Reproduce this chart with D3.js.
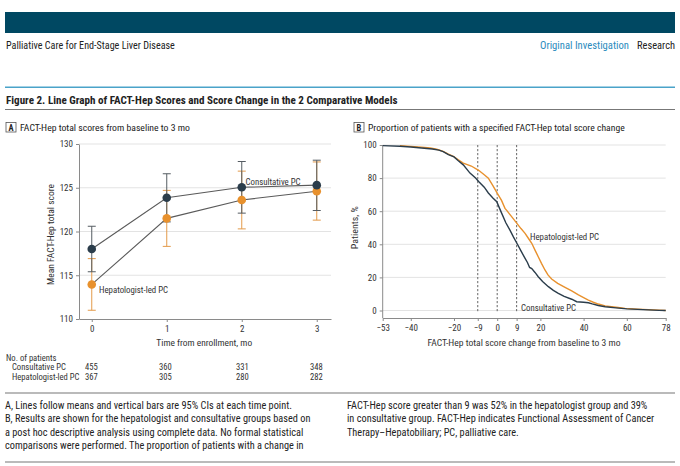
<!DOCTYPE html>
<html>
<head>
<meta charset="utf-8">
<script src="https://cdn.jsdelivr.net/npm/d3@7"></script>
<style>
  html, body { margin: 0; padding: 0; background: #fff; }
  svg { display: block; font-family: "Roboto Condensed", "Lato", sans-serif; }
</style>
</head>
<body>
<svg id="chart" width="680" height="466"></svg>
<script>
// ---------- Data ----------
const months = [0, 1, 2, 3];
const consultMean = [118.0, 123.85, 125.05, 125.3];
const consultLow  = [115.4, 121.1, 122.1, 122.4];
const consultHigh = [120.6, 126.6, 128.0, 128.15];
const hepMean = [113.95, 121.5, 123.6, 124.6];
const hepLow  = [111.0, 118.3, 120.3, 121.3];
const hepHigh = [116.9, 124.7, 126.9, 127.95];
const yTicksA = [110, 115, 120, 125, 130];

const patientRows = ["Consultative PC", "Hepatologist-led PC"];
const consultN = [455, 360, 331, 348];
const hepN = [367, 305, 280, 282];

const changeConsultX = [-53, -45, -40, -35, -30, -27, -25, -22.6, -20, -18, -15.7, -12.6, -10, -8.6, -6, -4.1, -2, -0.2, 1, 2.1, 4, 5.9, 7.5, 9.3, 11, 12.9, 14, 15, 16, 17.5, 19, 21, 23.7, 26, 28.3, 31, 34.5, 36.8, 40, 42.2, 44, 46.8, 50, 55, 60, 65, 70, 75, 78];
const changeConsultY = [99.6, 99.2, 98.8, 98.2, 97.6, 96.9, 96.0, 94.2, 92.8, 90.5, 88, 83, 80, 78, 74.5, 71, 68, 65.7, 62, 58.7, 53, 48.6, 44.5, 40.2, 36, 31.5, 29, 26, 25.3, 23, 20.4, 17.5, 14.4, 12.2, 10.4, 8.5, 6.8, 5.3, 5.0, 4.7, 4.0, 3.0, 2.3, 1.6, 1.0, 0.7, 0.4, 0.1, 0];
const changeHepX = [-45, -40, -35, -31, -28, -25, -22.6, -20.3, -18, -15.7, -12, -8.6, -6, -4.1, -2, 0.4, 2, 3.6, 4.4, 6.5, 9.3, 11, 12.9, 14.5, 16, 17.5, 19, 20.5, 22.1, 23.5, 25.2, 28, 31.4, 34.5, 37.6, 40, 42.2, 44.5, 46.8, 50, 53, 56, 59.2, 65, 70, 75, 78];
const changeHepY = [99.6, 99.2, 98.7, 98.2, 97.4, 96.2, 94.5, 93.2, 91, 89.1, 87.3, 84.7, 82, 80, 75.5, 70, 66.5, 61.7, 60.5, 57, 52.3, 49.5, 46.6, 43.5, 40.6, 36.5, 32.5, 28.5, 24.5, 21.5, 19, 16.4, 14, 11.8, 9.4, 7.8, 6.3, 5.0, 3.9, 2.8, 2.3, 1.8, 1.3, 0.8, 0.5, 0.2, 0];
const xTicksB = [-53, -40, -20, -9, 0, 9, 20, 40, 60, 78];
const yTicksB = [0, 20, 40, 60, 80, 100];
const refLinesB = [-9, 0, 9];

// ---------- Styles ----------
const NAVY = "#2b3d4b";
const ORANGE = "#e8912d";
const LINEGRAY = "#5a5a5a";
const GRID = "#e3e3e3";
const AXIS = "#8a8a8a";
const TXT = "#333";

const svg = d3.select("#chart");

// scale a text's font size so that it spans the given width
function fit(sel, w) {
  const fs = +sel.attr("font-size");
  const cur = sel.node().getComputedTextLength();
  if (cur > 0) sel.attr("font-size", (fs * w / cur).toFixed(2));
  return sel;
}

// ---------- Header ----------
svg.append("rect").attr("x", 5).attr("y", 12).attr("width", 670).attr("height", 21).attr("fill", "#004862");
fit(svg.append("text").attr("x", 6).attr("y", 48.5).attr("font-size", 10).attr("fill", "#222")
  .text("Palliative Care for End-Stage Liver Disease"), 169);
fit(svg.append("text").attr("x", 629).attr("y", 48.5).attr("font-size", 10.5).attr("fill", "#2a8bbd")
  .attr("text-anchor", "end").text("Original Investigation"), 89);
fit(svg.append("text").attr("x", 675).attr("y", 48.5).attr("font-size", 10.5).attr("fill", "#222")
  .attr("text-anchor", "end").text("Research"), 38);
svg.append("rect").attr("x", 5).attr("y", 86.5).attr("width", 670).attr("height", 1.5).attr("fill", "#4aa3c9");
fit(svg.append("text").attr("x", 6).attr("y", 103.5).attr("font-size", 11.2).attr("font-weight", "bold").attr("fill", "#222")
  .text("Figure 2. Line Graph of FACT-Hep Scores and Score Change in the 2 Comparative Models"), 391);
svg.append("rect").attr("x", 5).attr("y", 109).attr("width", 670).attr("height", 1).attr("fill", "#777");

function panelLabel(x, letter, text, w) {
  svg.append("rect").attr("x", x).attr("y", 122.5).attr("width", 10).attr("height", 9.5)
    .attr("fill", "#fff").attr("stroke", "#555").attr("stroke-width", 0.8);
  svg.append("text").attr("x", x + 5).attr("y", 130.5).attr("text-anchor", "middle")
    .attr("font-size", 8.5).attr("font-weight", "bold").attr("fill", "#222").text(letter);
  fit(svg.append("text").attr("x", x + 14).attr("y", 130.8).attr("font-size", 10).attr("fill", "#222").text(text), w);
}
panelLabel(6, "A", "FACT-Hep total scores from baseline to 3 mo", 170);
panelLabel(354, "B", "Proportion of patients with a specified FACT-Hep total score change", 257);

// ---------- Panel A ----------
const xA = d3.scaleLinear().domain([-0.17, 3.19]).range([79, 331]);
const yA = d3.scaleLinear().domain([110, 130]).range([319, 144]);
const gA = svg.append("g");

gA.selectAll("line.grid").data(yTicksA.filter(d => d > 110)).join("line")
  .attr("x1", xA.range()[0]).attr("x2", xA.range()[1])
  .attr("y1", d => yA(d)).attr("y2", d => yA(d))
  .attr("stroke", GRID).attr("stroke-width", 1);

const axLA = gA.append("g").attr("transform", `translate(${xA.range()[0]},0)`)
  .call(d3.axisLeft(yA).tickValues(yTicksA).tickFormat(d3.format("d")).tickSize(3).tickPadding(3).tickSizeOuter(0));
const axBA = gA.append("g").attr("transform", `translate(0,${yA(110)})`)
  .call(d3.axisBottom(xA).tickValues(months).tickFormat(d3.format("d")).tickSize(3).tickPadding(4).tickSizeOuter(0));
[axLA, axBA].forEach(a => {
  a.select(".domain").attr("stroke", AXIS);
  a.selectAll(".tick line").attr("stroke", AXIS);
  a.selectAll(".tick text").attr("font-size", 9).attr("fill", TXT)
    .attr("font-family", "'Roboto Condensed', sans-serif");
});

fit(gA.append("text").attr("transform", `translate(54,${(yA(110) + yA(130)) / 2 + 3}) rotate(-90)`)
  .attr("text-anchor", "middle").attr("font-size", 10).attr("fill", TXT).text("Mean FACT-Hep total score"), 101);
fit(gA.append("text").attr("x", (xA(0) + xA(3)) / 2).attr("y", 345.5).attr("text-anchor", "middle")
  .attr("font-size", 10).attr("fill", TXT).text("Time from enrollment, mo"), 96);

function seriesA(mean, low, high) {
  const pts = months.map((m, i) => ({ m, v: mean[i], lo: low[i], hi: high[i] }));
  gA.append("path").datum(pts)
    .attr("d", d3.line().x(d => xA(d.m)).y(d => yA(d.v)))
    .attr("fill", "none").attr("stroke", LINEGRAY).attr("stroke-width", 1.1);
  return pts;
}
function barsA(pts, barColor) {
  const g = gA.append("g").attr("stroke", barColor).attr("stroke-width", 1);
  g.selectAll("line.v").data(pts).join("line")
    .attr("x1", d => xA(d.m)).attr("x2", d => xA(d.m))
    .attr("y1", d => yA(d.lo)).attr("y2", d => yA(d.hi));
  g.selectAll("line.t").data(pts).join("line")
    .attr("x1", d => xA(d.m) - 4).attr("x2", d => xA(d.m) + 4)
    .attr("y1", d => yA(d.hi)).attr("y2", d => yA(d.hi));
  g.selectAll("line.b").data(pts).join("line")
    .attr("x1", d => xA(d.m) - 4).attr("x2", d => xA(d.m) + 4)
    .attr("y1", d => yA(d.lo)).attr("y2", d => yA(d.lo));
}
const cPts = seriesA(consultMean, consultLow, consultHigh);
const hPts = seriesA(hepMean, hepLow, hepHigh);
barsA(hPts, "#e39a4a");
barsA(cPts, "#555c62");
gA.selectAll("circle.h").data(hPts).join("circle")
  .attr("cx", d => xA(d.m)).attr("cy", d => yA(d.v)).attr("r", 4.3).attr("fill", ORANGE);
gA.selectAll("circle.c").data(cPts).join("circle")
  .attr("cx", d => xA(d.m)).attr("cy", d => yA(d.v)).attr("r", 4.3).attr("fill", NAVY);

const seriesFs = 8.8;
gA.append("text").attr("x", 245.5).attr("y", 185).attr("font-size", seriesFs).attr("fill", TXT).text("Consultative PC");
gA.append("text").attr("x", 99).attr("y", 292.5).attr("font-size", seriesFs).attr("fill", TXT).text("Hepatologist-led PC");

// Patients table
const tableFs = 8.6;
svg.append("text").attr("x", 6).attr("y", 360.5).attr("font-size", tableFs).attr("fill", TXT).text("No. of patients");
const colX = [85, 159, 236, 310];
[consultN, hepN].forEach((arr, r) => {
  const y = 370 + r * 10;
  svg.append("text").attr("x", 12).attr("y", y).attr("font-size", tableFs).attr("fill", TXT).text(patientRows[r]);
  arr.forEach((n, i) => {
    svg.append("text").attr("x", colX[i]).attr("y", y).attr("font-size", tableFs).attr("fill", TXT).text(n);
  });
});

// ---------- Panel B ----------
const xB = d3.scaleLinear().domain([-53, 78]).range([382.7, 665.7]);
const yB = d3.scaleLinear().domain([0, 100]).range([310.5, 145]);
const gB = svg.append("g");

gB.selectAll("line.grid").data(yTicksB).join("line")
  .attr("x1", xB.range()[0]).attr("x2", xB.range()[1])
  .attr("y1", d => yB(d)).attr("y2", d => yB(d))
  .attr("stroke", GRID).attr("stroke-width", 1);

const axLB = gB.append("g").attr("transform", `translate(${xB.range()[0]},0)`)
  .call(d3.axisLeft(yB).tickValues(yTicksB).tickFormat(d3.format("d")).tickSize(3).tickPadding(3).tickSizeOuter(0));
axLB.select(".domain").attr("d", `M0,${yB(100)}V318`);
const axBB = gB.append("g").attr("transform", `translate(0,318)`)
  .call(d3.axisBottom(xB).tickValues(xTicksB).tickFormat(d3.format("d")).tickSize(3).tickPadding(4).tickSizeOuter(0));
[axLB, axBB].forEach(a => {
  a.select(".domain").attr("stroke", AXIS);
  a.selectAll(".tick line").attr("stroke", AXIS);
  a.selectAll(".tick text").attr("font-size", 9).attr("fill", TXT)
    .attr("font-family", "'Roboto Condensed', sans-serif");
});
axBB.selectAll(".tick text").text(d => d < 0 ? "\u2212" + Math.abs(d) : d);

fit(gB.append("text").attr("transform", `translate(358,${(yB(0) + yB(100)) / 2}) rotate(-90)`)
  .attr("text-anchor", "middle").attr("font-size", 10).attr("fill", TXT).text("Patients, %"), 43);
fit(gB.append("text").attr("x", 524).attr("y", 345.5).attr("text-anchor", "middle")
  .attr("font-size", 10).attr("fill", TXT).text("FACT-Hep total score change from baseline to 3 mo"), 193);

gB.selectAll("line.ref").data(refLinesB).join("line")
  .attr("x1", d => xB(d)).attr("x2", d => xB(d))
  .attr("y1", yB(100)).attr("y2", yB(0) + 1)
  .attr("stroke", "#555").attr("stroke-width", 0.9).attr("stroke-dasharray", "2.2,1.8");

const lineB = d3.line().x(d => xB(d[0])).y(d => yB(d[1])).curve(d3.curveLinear);
gB.append("path").datum(d3.zip(changeHepX, changeHepY)).attr("d", lineB)
  .attr("fill", "none").attr("stroke", ORANGE).attr("stroke-width", 1.4);
gB.append("path").datum(d3.zip(changeConsultX, changeConsultY)).attr("d", lineB)
  .attr("fill", "none").attr("stroke", NAVY).attr("stroke-width", 1.4);

gB.append("text").attr("x", 521).attr("y", 310.5).attr("font-size", seriesFs).attr("fill", TXT).text("Consultative PC");
gB.append("text").attr("x", 530).attr("y", 240).attr("font-size", seriesFs).attr("fill", TXT).text("Hepatologist-led PC");

// ---------- Footnotes ----------
svg.append("rect").attr("x", 5).attr("y", 392.5).attr("width", 670).attr("height", 1).attr("fill", "#777");
const noteLeft = [
  "A, Lines follow means and vertical bars are 95% CIs at each time point.",
  "B, Results are shown for the hepatologist and consultative groups based on",
  "a post hoc descriptive analysis using complete data. No formal statistical",
  "comparisons were performed. The proportion of patients with a change in"
];
const noteRight = [
  "FACT-Hep score greater than 9 was 52% in the hepatologist group and 39%",
  "in consultative group. FACT-Hep indicates Functional Assessment of Cancer",
  "Therapy–Hepatobiliary; PC, palliative care."
];
const first = fit(svg.append("text").attr("x", 5).attr("y", 408.5).attr("font-size", 10.5)
  .attr("fill", "#222").text(noteLeft[0]), 287);
const noteFs = first.attr("font-size");
noteLeft.slice(1).forEach((t, i) => svg.append("text").attr("x", 5).attr("y", 408.5 + (i + 1) * 13.5)
  .attr("font-size", noteFs).attr("fill", "#222").text(t));
noteRight.forEach((t, i) => svg.append("text").attr("x", 347).attr("y", 408.5 + i * 13.5)
  .attr("font-size", noteFs).attr("fill", "#222").text(t));
svg.append("rect").attr("x", 5).attr("y", 461.5).attr("width", 670).attr("height", 1).attr("fill", "#777");
</script>
</body>
</html>
